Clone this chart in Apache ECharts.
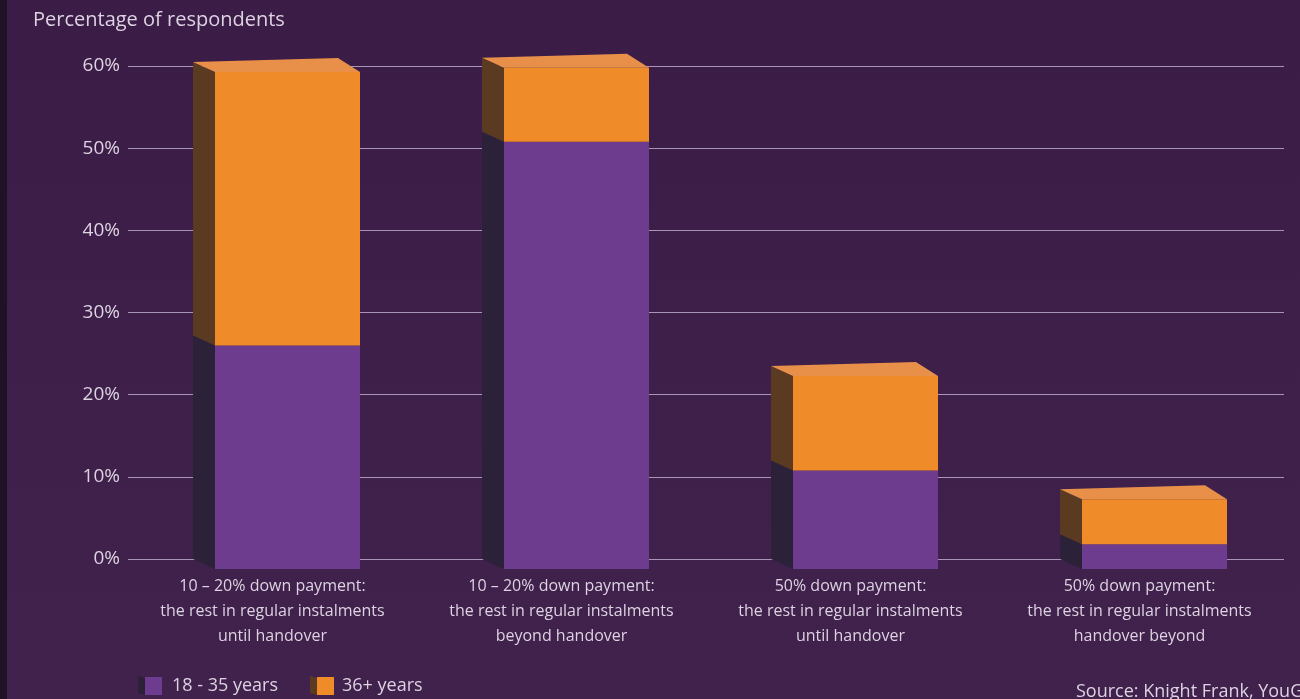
<!DOCTYPE html>
<html>
<head>
<meta charset="utf-8">
<script src="https://cdn.jsdelivr.net/npm/echarts@6/dist/echarts.min.js"></script>
<style>
  html, body { margin: 0; padding: 0; background: #3b1e48; }
  #chart { width: 1300px; height: 699px; }
</style>
</head>
<body>
<div id="chart"></div>
<script>
// Payment-plan preference by age group (share of respondents, %)
const categories = [
  '10 – 20% down payment:\nthe rest in regular instalments\nuntil handover',
  '10 – 20% down payment:\nthe rest in regular instalments\nbeyond handover',
  '50% down payment:\nthe rest in regular instalments\nuntil handover',
  '50% down payment:\nthe rest in regular instalments\nhandover beyond'
];
const seriesNames = ['18 - 35 years', '36+ years'];
const young = [27.2, 52, 12, 3];      // 18 - 35 years
const older = [33.3, 9, 11.5, 5.5];   // 36+ years
const yTicks = [0, 10, 20, 30, 40, 50, 60];

// Colours for the three visible faces of each block
const FACE = {
  young: { front: '#6d3c8f', side: '#2b2139', top: '#7a4a9c' },
  older: { front: '#ef8b28', side: '#5a3a20', top: '#e8904a' }
};
const TEXT = '#ddd3e2';
const FONT = '"Open Sans", Roboto, sans-serif';

// Pseudo-3D block: back plane sits on the value scale, front face shifted right/down
const DEPTH_X = 22, DEPTH_Y = 10, FRONT_W = 145, FRONT_SHIFT = -57.5;

function makeRender(colors, withTop) {
  return function (params, api) {
    const cat = api.value(0), lo = api.value(1), hi = api.value(2);
    const pLo = api.coord([cat, lo]);
    const pHi = api.coord([cat, hi]);
    const fl = pLo[0] + FRONT_SHIFT, fr = fl + FRONT_W;
    const bl = fl - DEPTH_X, br = fr - DEPTH_X;
    const fyLo = pLo[1] + DEPTH_Y, fyHi = pHi[1] + DEPTH_Y;
    const byLo = pLo[1], byHi = pHi[1];
    const children = [
      { type: 'polygon', shape: { points: [[bl, byHi], [fl, fyHi], [fl, fyLo], [bl, byLo]] },
        style: { fill: colors.side } },
      { type: 'rect', shape: { x: fl, y: fyHi, width: FRONT_W, height: fyLo - fyHi },
        style: { fill: colors.front } }
    ];
    if (withTop) {
      children.push({ type: 'polygon',
        shape: { points: [[bl, byHi], [br, byHi - 4], [fr, fyHi], [fl, fyHi]] },
        style: { fill: colors.top } });
    }
    return { type: 'group', children: children };
  };
}

const youngData = young.map((v, i) => [i, 0, v]);
const olderData = older.map((v, i) => [i, young[i], young[i] + v]);

function legendCube(x, y, textX, colors, label) {
  return [
    { type: 'polygon', shape: { points: [[x, y], [x + 7, y + 2], [x + 7, y + 19], [x, y + 17]] },
      style: { fill: colors.side } },
    { type: 'rect', shape: { x: x + 7, y: y + 1, width: 17, height: 18 }, style: { fill: colors.front } },
    { type: 'text', left: textX, top: y + 1,
      style: { text: label, fill: TEXT, font: '18px ' + FONT } }
  ];
}

const chart = echarts.init(document.getElementById('chart'));
chart.setOption({
  backgroundColor: {
    type: 'linear', x: 0, y: 0, x2: 0, y2: 1,
    colorStops: [{ offset: 0, color: '#3a1c47' }, { offset: 1, color: '#40224c' }]
  },
  animation: false,
  grid: { left: 128, right: 16, top: 66, bottom: 140 },
  xAxis: {
    type: 'category',
    data: categories,
    axisLine: { show: false },
    axisTick: { show: false },
    axisLabel: { color: TEXT, fontFamily: FONT, fontSize: 16, lineHeight: 25, margin: 15, interval: 0 }
  },
  yAxis: {
    type: 'value',
    min: 0, max: 60, interval: 10,
    axisLine: { show: false },
    axisTick: { show: false },
    axisLabel: {
      color: TEXT, fontFamily: FONT, fontSize: 19, margin: 8,
      formatter: v => (yTicks.includes(v) ? v + '%' : '')
    },
    splitLine: { lineStyle: { color: 'rgba(215,200,225,0.7)', width: 1 } }
  },
  series: [
    { name: seriesNames[0], type: 'custom', renderItem: makeRender(FACE.young, false),
      encode: { x: 0, y: [1, 2] }, data: youngData },
    { name: seriesNames[1], type: 'custom', renderItem: makeRender(FACE.older, true),
      encode: { x: 0, y: [1, 2] }, data: olderData }
  ],
  graphic: [
    { type: 'rect', left: 0, top: 0, shape: { width: 7, height: 699 }, style: { fill: '#1f1126' } },
    { type: 'text', left: 33, top: 10,
      style: { text: 'Percentage of respondents', fill: TEXT, font: '20px ' + FONT } },
    ...legendCube(138, 676, 172, FACE.young, seriesNames[0]),
    ...legendCube(310, 676, 342, FACE.older, seriesNames[1]),
    { type: 'text', left: 1076, top: 683,
      style: { text: 'Source: Knight Frank, YouGov', fill: TEXT, font: '18px ' + FONT } }
  ]
});
</script>
</body>
</html>
